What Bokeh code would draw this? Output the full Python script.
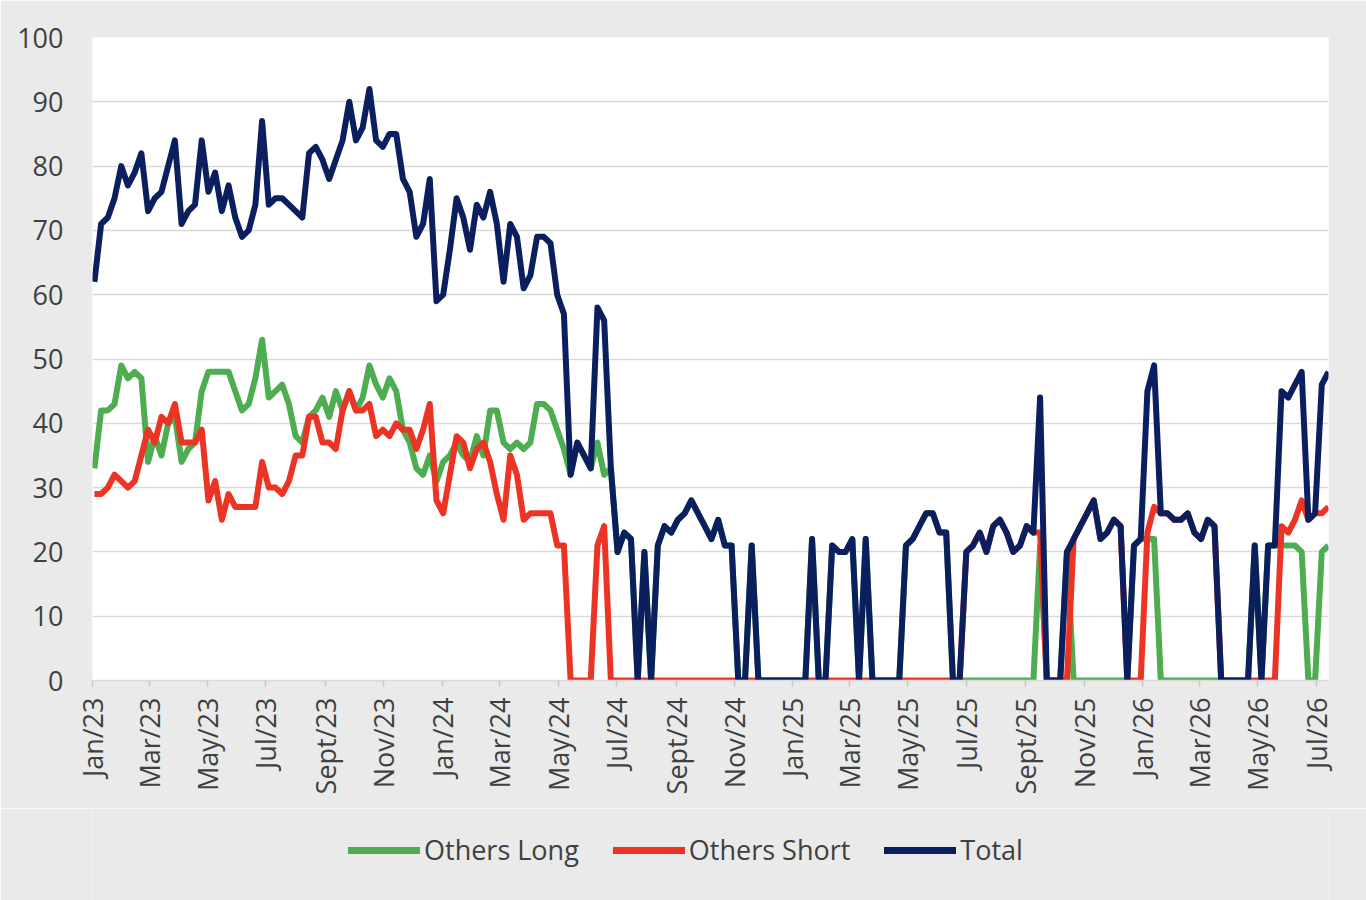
import math
import pandas as pd
from bokeh.plotting import figure
from bokeh.layouts import column
from bokeh.models import Range1d, FixedTicker, Legend, LegendItem
from bokeh.embed import file_html
from bokeh.resources import INLINE

# ---------------- data (weekly) ----------------
start_date = "2023-01-03"

total = [
    62, 71, 72, 75, 80, 77, 79, 82, 73, 75,
    76, 80, 84, 71, 73, 74, 84, 76, 79, 73,
    77, 72, 69, 70, 74, 87, 74, 75, 75, 74,
    73, 72, 82, 83, 81, 78, 81, 84, 90, 84,
    86, 92, 84, 83, 85, 85, 78, 76, 69, 71,
    78, 59, 60, 67, 75, 72, 67, 74, 72, 76,
    71, 62, 71, 69, 61, 63, 69, 69, 68, 60,
    57, 32, 37, 35, 33, 58, 56, 33, 20, 23,
    22, 0, 20, 0, 21, 24, 23, 25, 26, 28,
    26, 24, 22, 25, 21, 21, 0, 0, 21, 0,
    0, 0, 0, 0, 0, 0, 0, 22, 0, 0,
    21, 20, 20, 22, 0, 22, 0, 0, 0, 0,
    0, 21, 22, 24, 26, 26, 23, 23, 0, 0,
    20, 21, 23, 20, 24, 25, 23, 20, 21, 24,
    23, 44, 0, 0, 0, 20, 22, 24, 26, 28,
    22, 23, 25, 24, 0, 21, 22, 45, 49, 26,
    26, 25, 25, 26, 23, 22, 25, 24, 0, 0,
    0, 0, 0, 21, 0, 21, 21, 45, 44, 46,
    48, 25, 26, 46, 48,
]

others_long = [
    33, 42, 42, 43, 49, 47, 48, 47, 34, 38,
    35, 40, 41, 34, 36, 37, 45, 48, 48, 48,
    48, 45, 42, 43, 47, 53, 44, 45, 46, 43,
    38, 37, 41, 42, 44, 41, 45, 42, 45, 42,
    44, 49, 46, 44, 47, 45, 39, 37, 33, 32,
    35, 31, 34, 35, 37, 35, 34, 38, 35, 42,
    42, 37, 36, 37, 36, 37, 43, 43, 42, 39,
    36, 32, 37, 35, 33, 37, 32, 33, 20, 23,
    22, 0, 20, 0, 21, 24, 23, 25, 26, 28,
    26, 24, 22, 25, 21, 21, 0, 0, 21, 0,
    0, 0, 0, 0, 0, 0, 0, 22, 0, 0,
    21, 20, 20, 22, 0, 22, 0, 0, 0, 0,
    0, 21, 22, 24, 26, 26, 23, 23, 0, 0,
    0, 0, 0, 0, 0, 0, 0, 0, 0, 0,
    0, 21, 0, 0, 0, 20, 0, 0, 0, 0,
    0, 0, 0, 0, 0, 21, 22, 22, 22, 0,
    0, 0, 0, 0, 0, 0, 0, 0, 0, 0,
    0, 0, 0, 21, 0, 21, 21, 21, 21, 21,
    20, 0, 0, 20, 21,
]

others_short = [
    29, 29, 30, 32, 31, 30, 31, 35, 39, 37,
    41, 40, 43, 37, 37, 37, 39, 28, 31, 25,
    29, 27, 27, 27, 27, 34, 30, 30, 29, 31,
    35, 35, 41, 41, 37, 37, 36, 42, 45, 42,
    42, 43, 38, 39, 38, 40, 39, 39, 36, 39,
    43, 28, 26, 32, 38, 37, 33, 36, 37, 34,
    29, 25, 35, 32, 25, 26, 26, 26, 26, 21,
    21, 0, 0, 0, 0, 21, 24, 0, 0, 0,
    0, 0, 0, 0, 0, 0, 0, 0, 0, 0,
    0, 0, 0, 0, 0, 0, 0, 0, 0, 0,
    0, 0, 0, 0, 0, 0, 0, 0, 0, 0,
    0, 0, 0, 0, 0, 0, 0, 0, 0, 0,
    0, 0, 0, 0, 0, 0, 0, 0, 0, 0,
    20, 21, 23, 20, 24, 25, 23, 20, 21, 24,
    23, 23, 0, 0, 0, 0, 22, 24, 26, 28,
    22, 23, 25, 24, 0, 0, 0, 23, 27, 26,
    26, 25, 25, 26, 23, 22, 25, 24, 0, 0,
    0, 0, 0, 0, 0, 0, 0, 24, 23, 25,
    28, 25, 26, 26, 27,
]

tick_labels = [
    "Jan/23", "Mar/23", "May/23", "Jul/23", "Sept/23", "Nov/23",
    "Jan/24", "Mar/24", "May/24", "Jul/24", "Sept/24", "Nov/24",
    "Jan/25", "Mar/25", "May/25", "Jul/25", "Sept/25", "Nov/25",
    "Jan/26", "Mar/26", "May/26", "Jul/26",
]
y_ticks = [0, 10, 20, 30, 40, 50, 60, 70, 80, 90, 100]

series_names = ["Others Long", "Others Short", "Total"]
series_colors = ["#4EAD50", "#EC3424", "#0B1F5E"]

# ---------------- positions ----------------
origin = pd.Timestamp("2023-01-01")
dates = pd.date_range(start_date, periods=len(total), freq="7D")
x = [int((d - origin).days) for d in dates]
tick_dates = pd.date_range("2023-01-01", periods=len(tick_labels), freq="2MS")
tick_x = [int((d - origin).days) for d in tick_dates]
series_values = [others_long, others_short, total]

FONT = "Open Sans"
TXT = "#404040"
BG = "#EAEAEA"
FS = "27px"
LW = 6

# ---------------- main chart ----------------
p = figure(
    width=1366, height=808,
    output_backend="svg", toolbar_location=None,
    x_range=Range1d(0, x[-1]), y_range=Range1d(0, 100),
    min_border_left=92, min_border_right=38,
    min_border_top=37, min_border_bottom=128,
)
p.background_fill_color = "white"
p.border_fill_color = BG
p.outline_line_color = None

for vals, col in zip(series_values, series_colors):
    p.line(x, vals, line_color=col, line_width=LW, line_join="round")

# x axis
p.xaxis.ticker = FixedTicker(ticks=tick_x)
p.xaxis.major_label_overrides = {tx: lab for tx, lab in zip(tick_x, tick_labels)}
p.xaxis.major_label_orientation = math.pi / 2
p.xaxis.major_label_standoff = 11
p.xaxis.major_label_text_font = FONT
p.xaxis.major_label_text_font_size = FS
p.xaxis.major_label_text_color = TXT
p.xaxis.axis_line_color = "#D9D9D9"
p.xaxis.axis_line_width = 1.5
p.xaxis.major_tick_line_color = "#C8C8C8"
p.xaxis.major_tick_line_width = 1.5
p.xaxis.major_tick_out = 6
p.xaxis.major_tick_in = 0
p.xaxis.minor_tick_line_color = None

# y axis
p.yaxis.ticker = FixedTicker(ticks=y_ticks)
p.yaxis.axis_line_color = None
p.yaxis.major_tick_line_color = None
p.yaxis.major_tick_out = 0
p.yaxis.major_tick_in = 0
p.yaxis.minor_tick_line_color = None
p.yaxis.major_label_standoff = 29
p.yaxis.major_label_text_font = FONT
p.yaxis.major_label_text_font_size = FS
p.yaxis.major_label_text_color = TXT

# grid
p.xgrid.grid_line_color = None
p.ygrid.ticker = FixedTicker(ticks=y_ticks)
p.ygrid.grid_line_color = "#D9D9D9"
p.ygrid.grid_line_width = 1.5

# ---------------- legend strip (proxy lines lie outside its y range) ----------------
lf = figure(
    width=1366, height=92,
    output_backend="svg", toolbar_location=None,
    x_range=Range1d(0, x[-1]), y_range=Range1d(1000, 1001),
    x_axis_type=None, y_axis_type=None,
    min_border=0,
)
lf.background_fill_color = BG
lf.border_fill_color = BG
lf.outline_line_color = None

leg_renderers = [
    lf.line(x, vals, line_color=col, line_width=LW + 1, line_cap="round")
    for vals, col in zip(series_values, series_colors)
]
legend = Legend(
    items=[LegendItem(label=n, renderers=[r]) for n, r in zip(series_names, leg_renderers)],
    orientation="horizontal",
    location=(256, 32),
    label_text_font=FONT,
    label_text_font_size=FS,
    label_text_color=TXT,
    glyph_width=72,
    glyph_height=20,
    label_standoff=4,
    spacing=34,
    padding=0,
    margin=0,
    background_fill_alpha=0,
    border_line_color=None,
)
lf.add_layout(legend, "center")

layout = column(p, lf, spacing=0)
open("out.html", "w").write(file_html(layout, INLINE))
